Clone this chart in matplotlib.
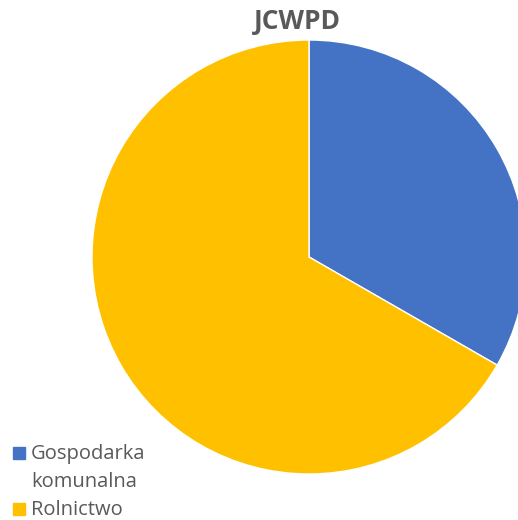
import matplotlib.pyplot as plt
from matplotlib.patches import Rectangle

categories = ['Gospodarka\nkomunalna', 'Rolnictwo']
values = [33.3, 66.7]
colors = ['#4472C4', '#FFC000']

W, H = 518, 520
fig = plt.figure(figsize=(W / 100, H / 100), dpi=100)

cx, cy, r = 309, 257, 217
ax = fig.add_axes([(cx - r) / W, (H - cy - r) / H, 2 * r / W, 2 * r / H])
ax.pie(values, colors=colors, startangle=90, counterclock=False,
       wedgeprops=dict(edgecolor='white', linewidth=1))
ax.set_xlim(-1, 1)
ax.set_ylim(-1, 1)
ax.set_aspect('equal')
ax.axis('off')

fig.text(297 / W, 1 - 29 / H, 'JCWPD', ha='center', va='baseline',
         fontsize=19, fontweight='bold', color='#595959', family='Open Sans')

# legend drawn by hand so the marker sits on the first line of a wrapped label
y = 459
for label, color in zip(categories, colors):
    fig.patches.append(Rectangle((13 / W, 1 - y / H), 12 / W, 12 / H,
                                 transform=fig.transFigure, color=color))
    for line in label.split('\n'):
        fig.text(31 / W, 1 - y / H, line, ha='left', va='baseline',
                 fontsize=14.5, color='#595959', family='Open Sans')
        y += 28

fig.savefig('out.png', dpi=100)
